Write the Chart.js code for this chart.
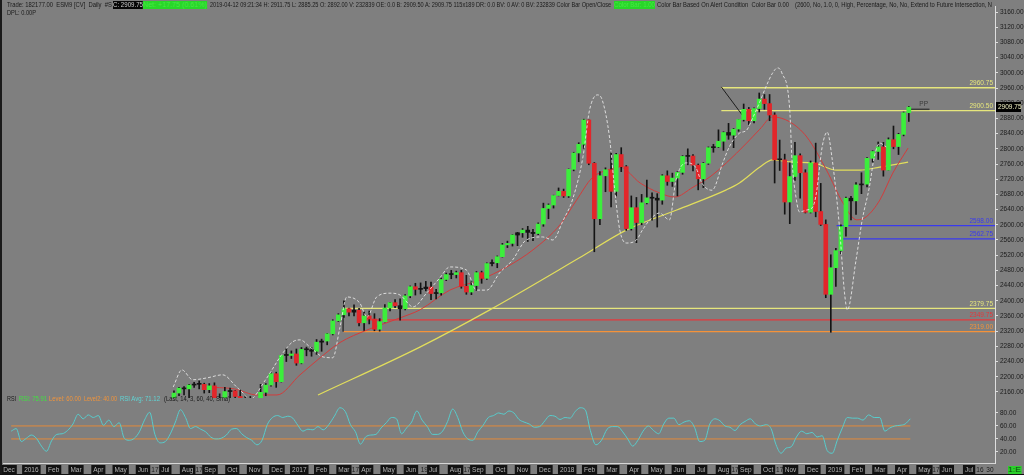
<!DOCTYPE html>
<html>
<head>
<meta charset="utf-8">
<title>ESM9 Daily</title>
<script src="https://cdn.jsdelivr.net/npm/chart.js@4.4.1/dist/chart.umd.min.js"></script>
<style>
  html, body { margin: 0; padding: 0; background: #7f7f7f; }
  #wrap { position: relative; width: 1024px; height: 475px; overflow: hidden; background: #7f7f7f;
          font-family: "Liberation Sans", Arial, sans-serif; }
  canvas { position: absolute; left: 0; }
  #priceChart { top: 0; }
  #rsiChart { top: 398px; }
  .txt { position: absolute; white-space: nowrap; font-size: 7px; line-height: 8px; color: #1b1b1b; transform-origin: 0 50%; }
  #edgeL { position: absolute; left: 0; top: 0; width: 2px; height: 475px; background: #1a1a1a; }
  #edgeB { position: absolute; left: 0; top: 474px; width: 1024px; height: 1px; background: #111; }
</style>
</head>
<body>
<div id="wrap">
  <canvas id="priceChart" width="1024" height="400"></canvas>
  <canvas id="rsiChart" width="1024" height="77"></canvas>

  <div class="txt fit" data-w="105" style="left:7px;top:1px">Trade: 182177.00 &nbsp;ESM9 [CV] &nbsp;Daily &nbsp;#S</div>
  <div class="txt fit" data-w="30" style="left:113px;top:1px;background:#060606;color:#cfcfcf">C: 2909.75</div>
  <div class="txt fit" data-w="64" style="left:143px;top:1px;background:#29d629;color:#45e845">Net: +17.75 (0.61%)</div>
  <div class="txt fit" data-w="401" style="left:210px;top:1px">2019-04-12 09:21:34 H: 2911.75 L: 2885.25 O: 2892.00 V: 232839 OE: 0.0 B: 2909.50 A: 2909.75 115x189 DR: 0.0 BV: 0 AV: 0 BV: 232839 Color Bar Open/Close</div>
  <div class="txt fit" data-w="41" style="left:614px;top:1px;background:#29d629;color:#45e845">Color Bar: 1.00</div>
  <div class="txt fit" data-w="132" style="left:657px;top:1px">Color Bar Based On Alert Condition &nbsp;Color Bar 0.00</div>
  <div class="txt fit" data-w="197" style="left:795px;top:1px">(2600, No, 1.0, 0, High, Percentage, No, No, Extend to Future Intersection, N</div>
  <div class="txt fit" data-w="29" style="left:7px;top:9px">DPL: 0.00P</div>

  <div class="txt fit" data-w="9" style="left:7px;top:395px">RSI</div>
  <div class="txt fit" data-w="28" style="left:19px;top:395px;color:#41e041">RSI: 75.91</div>
  <div class="txt fit" data-w="32" style="left:49px;top:395px;color:#f0943c">Level: 60.00</div>
  <div class="txt fit" data-w="33" style="left:84px;top:395px;color:#f0943c">Level2: 40.00</div>
  <div class="txt fit" data-w="40" style="left:120px;top:395px;color:#5fd6d6">RSI Avg: 71.12</div>
  <div class="txt fit" data-w="66" style="left:164px;top:395px">(Last, 14, 3, 60, 40, Sma)</div>

  <div class="txt fit" data-w="13" style="left:1008px;top:466px;background:#2bd02b;color:#0d4d0d">1:E</div>
  <div id="edgeL"></div>
  <div id="edgeB"></div>
</div>

<script>
// ---- weekly ES candles, one per week (Friday), starting here
const candleStart = '2016-07-08';
const opens = [
  2090,2125,2157,2170,2168,2178,2180,2180,2166,2176,2124,2133,2161,2163,2148,2128,2135,2121,2080,2159,2178,2208,2187,2256,2256,2260,
  2236,2272,2271,2267,2291,2294,2313,2347,2363,2379,2370,2375,2342,2360,2352,2325,2345,2381,2395,2387,2379,2413,2437,2430,2432,2436,
  2419,2421,2456,2469,2469,2474,2438,2423,2440,2474,2459,2498,2500,2516,2547,2551,2573,2579,2586,2580,2577,2602,2643,2652,2677,2688,
  2676,2746,2789,2812,2876,2762,2616,2729,2745,2688,2785,2753,2590,2645,2606,2658,2671,2670,2665,2729,2714,2723,2738,2780,2781,2757,
  2721,2762,2803,2805,2820,2843,2836,2852,2877,2904,2874,2906,2931,2919,2889,2771,2771,2660,2727,2782,2737,2633,2763,2635,2601,2417,
  2487,2532,2595,2670,2663,2705,2707,2775,2793,2805,2744,2824,2806,2838,2895
];
const highs = [
  2126,2163,2172,2174,2180,2185,2189,2183,2182,2184,2155,2172,2170,2164,2165,2150,2148,2124,2180,2182,2210,2212,2257,2275,2268,2273,
  2277,2278,2277,2298,2299,2314,2350,2366,2400,2381,2389,2380,2370,2373,2366,2353,2390,2396,2403,2405,2416,2439,2446,2447,2451,2449,
  2430,2460,2473,2480,2478,2480,2467,2450,2477,2478,2500,2508,2518,2551,2557,2574,2580,2590,2596,2588,2605,2657,2655,2678,2697,2694,
  2747,2791,2816,2878,2876,2764,2740,2750,2792,2788,2803,2756,2676,2672,2680,2718,2684,2682,2732,2742,2736,2740,2782,2800,2785,2760,
  2764,2805,2812,2850,2845,2867,2854,2877,2918,2909,2908,2947,2943,2943,2895,2823,2786,2763,2817,2787,2745,2768,2815,2709,2613,2521,
  2538,2600,2673,2675,2711,2737,2777,2795,2818,2817,2829,2860,2841,2897,2911.75
];
const lows = [
  2073,2122,2150,2152,2145,2172,2168,2157,2158,2120,2113,2128,2141,2140,2113,2118,2114,2075,2028,2150,2175,2172,2186,2240,2248,2230,
  2234,2255,2254,2259,2267,2284,2310,2345,2356,2360,2360,2334,2322,2339,2321,2320,2344,2373,2382,2349,2376,2408,2415,2418,2426,2403,
  2405,2415,2453,2458,2460,2433,2417,2416,2427,2446,2456,2492,2487,2515,2540,2544,2545,2567,2556,2558,2574,2596,2616,2644,2676,2672,
  2672,2742,2766,2801,2758,2529,2600,2687,2647,2676,2740,2585,2586,2553,2600,2655,2612,2594,2654,2704,2701,2676,2733,2758,2742,2692,
  2698,2759,2791,2803,2796,2825,2803,2846,2873,2864,2868,2897,2904,2874,2710,2743,2628,2603,2717,2670,2631,2631,2621,2598,2408,2317,
  2438,2524,2570,2613,2627,2682,2700,2765,2772,2728,2744,2800,2785,2834,2872
];
const closes = [
  2125,2157,2170,2168,2178,2180,2180,2166,2176,2124,2133,2161,2163,2148,2128,2135,2121,2080,2159,2178,2208,2187,2256,2256,2260,2236,
  2272,2271,2267,2291,2294,2313,2347,2363,2379,2370,2375,2342,2360,2352,2325,2345,2381,2395,2387,2379,2413,2437,2430,2432,2436,2419,
  2421,2456,2469,2469,2474,2438,2423,2440,2474,2459,2498,2500,2516,2547,2551,2573,2579,2586,2580,2577,2602,2643,2652,2677,2688,2676,
  2746,2789,2812,2876,2762,2616,2729,2745,2688,2785,2753,2590,2645,2606,2658,2671,2670,2665,2729,2714,2723,2738,2780,2781,2757,2721,
  2762,2803,2805,2820,2843,2836,2852,2877,2904,2874,2906,2931,2919,2889,2771,2771,2660,2727,2782,2737,2633,2763,2635,2601,2417,2487,
  2532,2595,2670,2663,2705,2707,2775,2793,2805,2744,2824,2806,2838,2895,2909.75
];

// ---- red average
const redDates = ['2016-09-07','2016-10-04','2016-11-04','2016-12-01','2017-01-02','2017-01-30','2017-02-24','2017-04-02',
  '2017-05-17','2017-06-13','2017-07-24','2017-09-04','2017-10-10','2017-11-15','2017-12-22','2018-01-14','2018-02-04',
  '2018-02-23','2018-03-12','2018-04-09','2018-05-05','2018-05-26','2018-06-20','2018-07-13','2018-08-05','2018-09-02',
  '2018-09-20','2018-10-07','2018-10-31','2018-11-23','2018-12-20','2019-01-12','2019-01-31','2019-02-12','2019-03-01',
  '2019-03-19','2019-04-09'];
const redValues = [2172,2168,2152,2152,2205,2250,2290,2323,2355,2376,2428,2455,2489,2534,2600,2665,2723,2744,2752,2710,2684,
  2673,2699,2726,2763,2815,2852,2884,2871,2831,2744,2657,2613,2621,2665,2736,2802];

// ---- yellow average
const yellowDates = ['2017-01-27','2017-06-13','2017-09-17','2018-01-18','2018-03-21','2018-05-29','2018-08-05','2018-08-23',
  '2018-09-20','2018-10-07','2018-11-04','2018-12-01','2019-01-03','2019-02-04','2019-03-01','2019-04-09'];
const yellowValues = [2152,2278,2376,2513,2586,2639,2692,2710,2752,2771,2765,2763,2744,2744,2752,2765];

// ---- white dashed line
const whiteDates = ['2016-07-12','2016-07-24','2016-08-08','2016-08-28','2016-09-18','2016-10-07','2016-10-16','2016-10-25',
  '2016-11-15','2016-12-09','2016-12-23','2017-01-02','2017-01-16','2017-02-03','2017-02-15','2017-02-24','2017-03-05',
  '2017-03-23','2017-04-02','2017-04-15','2017-05-03','2017-05-17','2017-06-04','2017-06-22','2017-07-10','2017-07-24',
  '2017-08-16','2017-08-30','2017-09-13','2017-09-30','2017-10-18','2017-11-06','2017-11-28','2017-12-12','2017-12-26',
  '2018-01-09','2018-01-23','2018-02-01','2018-02-11','2018-02-17','2018-02-26','2018-03-05','2018-03-12','2018-03-21',
  '2018-04-04','2018-04-12','2018-04-22','2018-05-05','2018-05-19','2018-05-28','2018-06-11','2018-06-24','2018-07-02',
  '2018-07-16','2018-07-31','2018-08-09','2018-08-23','2018-09-02','2018-09-09','2018-09-19','2018-09-28','2018-10-07',
  '2018-10-14','2018-10-20','2018-10-31','2018-11-03','2018-11-09','2018-11-13','2018-11-23','2018-12-01','2018-12-06',
  '2018-12-14','2018-12-21','2018-12-28','2019-01-07','2019-01-14','2019-01-18','2019-01-30','2019-02-07','2019-02-16',
  '2019-02-22','2019-03-01','2019-03-10'];
const whiteValues = [2173,2218,2192,2197,2205,2173,2157,2140,2190,2262,2292,2297,2278,2252,2250,2330,2410,2394,2357,2410,
  2420,2415,2384,2420,2460,2489,2481,2428,2428,2473,2507,2560,2568,2560,2610,2670,2780,2902,2942,2928,2831,2691,2586,2552,
  2560,2586,2613,2631,2613,2718,2763,2750,2710,2691,2763,2805,2841,2849,2876,2920,2963,2999,3013,3000,2902,2771,2665,2634,
  2639,2647,2684,2805,2844,2771,2594,2421,2376,2507,2613,2700,2778,2815,2805];

// ---- horizontal levels
const levelValues = [2960.75, 2900.50, 2598.00, 2562.75, 2379.75, 2349.75, 2319.00];
const levelStarts = ['2018-07-29','2018-07-29','2019-01-03','2019-01-07','2017-02-28','2017-03-20','2017-02-28'];
const trendFrom = ['2018-07-29', 2963], trendTo = ['2018-08-27', 2889];
const ppValue = 2904, ppFrom = '2019-04-11', ppTo = '2019-05-08';
const lastPrice = 2909.75;

// ---- RSI, one value per week from here
const rsiStart = '2015-12-04';
const rsiValues = [
  52,56,36,41,46,41,29,21,37,47, 48,53,63,78,71,77,73,76,61,69, 59,65,41,38,41,51,69,81,47,34,
  36,48,66,85,73,56,59,55,51,43, 40,41,46,55,56,48,42,38,31,38, 62,73,76,73,75,72,61,52,55,54,
  59,54,62,75,88,82,62,51,32,43, 46,47,57,65,73,71,48,57,66,83, 69,59,47,47,52,67,86,73,51,40,
  38,51,61,73,76,80,78,83,
  80,70,66,63,58,59,68,76,75,70, 73,72,82,88,85,53,31,38,55,59, 59,51,40,29,38,52,60,53,48,63,
  72,72,62,66,68,58,36,38,63,71, 68,60,58,53,62,67,71,63,60,62, 56,31,18,26,28,43,52,48,50,43,
  45,22,18,38,57,73,72,72,69,77, 73,73,52,57,60,61,63,71
];
const rsiLevels = [60, 40];

// ---- axis ticks
const priceTicks = [2160,2200,2240,2280,2320,2360,2400,2440,2480,2520,2560,2600,2640,2680,2720,2760,2800,2840,
  2880,2920,2960,3000,3040,3080,3120,3160];
const rsiTicks = [20, 40, 60, 80];
const monthLabels = ['Dec','2016','Feb','Mar','Apr','May','Jun','Jul','Aug','Sep','Oct','Nov',
  'Dec','2017','Feb','Mar','Apr','May','Jun','Jul','Aug','Sep','Oct','Nov',
  'Dec','2018','Feb','Mar','Apr','May','Jun','Jul','Aug','Sep','Oct','Nov',
  'Dec','2019','Feb','Mar','Apr','May','Jun','Jul'];
const dayLabelDates = ['2016-06-17','2016-08-17','2017-03-17','2017-06-19','2017-08-17','2018-08-17','2018-10-17',
  '2019-05-17','2019-07-16','2019-07-30'];
const dayLabels = ['17','17','17','19','17','17','17','17','16','30'];

// ---- styles
const FONT = '"Liberation Sans", Arial, sans-serif';
const GREEN = '#3cee3c', RED = '#e2262a', BLACK = '#141414';
const LEVEL_COLORS = ['#e6e67c','#e6e67c','#3a3aee','#3a3aee','#e6e67c','#e4383c','#f4923a'];
const X_MIN = -0.27, X_MAX = 44.16;

Chart.defaults.font.family = FONT;

// x position = months since 1 Dec 2015
function monthPos(d) {
  const y = d.getUTCFullYear(), m = d.getUTCMonth() + 1, day = d.getUTCDate();
  const len = new Date(Date.UTC(y, m, 0)).getUTCDate();
  return (y - 2015) * 12 + (m - 12) + (day - 1) / len;
}
const posOf = s => monthPos(new Date(s + 'T00:00:00Z'));
function weekly(start, n) {
  const t0 = Date.parse(start + 'T00:00:00Z');
  return Array.from({length: n}, (_, i) => new Date(t0 + i * 7 * 864e5));
}
const series = (dates, values) => dates.map((d, i) => ({x: posOf(d), y: values[i]}));

const candleX = weekly(candleStart, closes.length).map(d => monthPos(new Date(d.getTime() - 2 * 864e5)));
const bodyColors = closes.map((c, i) => {
  const o = opens[i];
  if (Math.abs(c - o) < (highs[i] - lows[i]) * 0.2) return BLACK;
  return c > o ? GREEN : RED;
});

const lineDs = (data, color, extra) => Object.assign({
  type: 'line', data, borderColor: color, borderWidth: 1, pointRadius: 0, fill: false,
  cubicInterpolationMode: 'monotone'
}, extra || {});
const straight = {cubicInterpolationMode: 'default', tension: 0};

const farRight = posOf('2019-09-30');
const levelSets = levelValues.map((v, i) => lineDs(
  [{x: posOf(levelStarts[i]), y: v}, {x: farRight, y: v}], LEVEL_COLORS[i],
  Object.assign({borderWidth: 1.3, order: 10}, straight)));

const levelLabels = {
  id: 'levelLabels',
  afterDatasetsDraw(chart) {
    const {ctx, chartArea, scales: {x, y}} = chart;
    ctx.save();
    ctx.font = '6.5px ' + FONT;
    ctx.textAlign = 'right';
    ctx.textBaseline = 'bottom';
    levelValues.forEach((v, i) => {
      ctx.fillStyle = LEVEL_COLORS[i];
      ctx.fillText(v.toFixed(2), chartArea.right - 2, y.getPixelForValue(v) - 1);
    });
    ctx.fillStyle = '#3a3a3a';
    ctx.textAlign = 'center';
    ctx.fillText('PP', x.getPixelForValue(posOf('2019-04-30')), y.getPixelForValue(ppValue) - 2);
    ctx.restore();
  },
  afterDraw(chart) {
    const {ctx, chartArea, scales: {y}} = chart;
    const py = Math.round(y.getPixelForValue(lastPrice));
    ctx.save();
    ctx.fillStyle = '#000';
    ctx.fillRect(chartArea.right + 1, py - 5, 25, 10);
    ctx.fillStyle = '#f3f3c4';
    ctx.font = '6.5px ' + FONT;
    ctx.textBaseline = 'middle';
    ctx.fillText(lastPrice.toFixed(2), chartArea.right + 3, py);
    ctx.restore();
  }
};

const yAxisCommon = {
  position: 'right',
  grid: {display: true, drawOnChartArea: false, drawTicks: true, tickLength: 3, color: '#dedede'},
  border: {display: true, color: '#dedede'},
  ticks: {callback: v => v.toFixed(2), color: '#1c1c1c', font: {size: 6.5}, padding: 2}
};
const fitY = s => { s.width = 29; s.paddingTop = 0; s.paddingBottom = 0; };

new Chart(document.getElementById('priceChart'), {
  type: 'bar',
  data: {
    datasets: [
      lineDs(series(whiteDates, whiteValues), 'rgba(236,236,236,0.85)', {borderDash: [3, 2], order: 1}),
      {type: 'bar', data: candleX.map((x, i) => ({x, y: [opens[i], closes[i]]})), backgroundColor: bodyColors,
       barThickness: 4, minBarLength: 1, grouped: false, borderWidth: 0, order: 2},
      {type: 'bar', data: candleX.map((x, i) => ({x, y: [lows[i], highs[i]]})), backgroundColor: BLACK,
       barThickness: 1, grouped: false, borderWidth: 0, order: 3},
      lineDs(series(redDates, redValues), '#d23c3c', {order: 5}),
      lineDs(series(yellowDates, yellowValues), '#e2de5c', {borderWidth: 1.2, order: 5}),
      lineDs([{x: posOf(trendFrom[0]), y: trendFrom[1]}, {x: posOf(trendTo[0]), y: trendTo[1]}], '#1e1e1e',
        Object.assign({order: 4}, straight)),
      lineDs([{x: posOf(ppFrom), y: ppValue}, {x: posOf(ppTo), y: ppValue}], '#3a3a3a',
        Object.assign({borderWidth: 1.5, order: 4}, straight)),
      lineDs([{x: posOf('2017-02-28'), y: 2379.75}, {x: posOf('2017-02-28'), y: 2319.00}], '#3c3c3c',
        Object.assign({order: 10}, straight)),
      ...levelSets
    ]
  },
  options: {
    responsive: false, animation: false, events: [],
    layout: {padding: {left: 3, right: 0, top: 6, bottom: 2}},
    plugins: {legend: {display: false}, tooltip: {enabled: false}},
    scales: {
      x: {type: 'linear', display: false, min: X_MIN, max: X_MAX, offset: false, grid: {offset: false}},
      y: Object.assign({}, yAxisCommon, {
        min: 2144, max: 3176, beginAtZero: false,
        afterBuildTicks: s => { s.ticks = priceTicks.map(v => ({value: v})); },
        afterFit: fitY
      })
    }
  },
  plugins: [levelLabels]
});

const rsiX = weekly(rsiStart, rsiValues.length).map(monthPos);
const xTicks = monthLabels.map((t, i) => ({value: i, text: t, box: true}))
  .concat(dayLabels.map((t, i) => ({value: posOf(dayLabelDates[i]), text: t, box: false})));

new Chart(document.getElementById('rsiChart'), {
  type: 'line',
  data: {
    datasets: rsiLevels.map(v => lineDs([{x: rsiX[0], y: v}, {x: rsiX[rsiX.length - 1], y: v}], '#e38a3a',
        Object.assign({order: 3}, straight)))
      .concat([lineDs(rsiX.map((x, i) => ({x, y: rsiValues[i]})), '#58cccc', {order: 1})])
  },
  options: {
    responsive: false, animation: false, events: [],
    layout: {padding: {left: 3, right: 0, top: 0, bottom: 0}},
    plugins: {legend: {display: false}, tooltip: {enabled: false}},
    scales: {
      x: {
        type: 'linear', min: X_MIN, max: X_MAX, offset: false,
        grid: {display: false, drawTicks: false},
        border: {display: true, color: '#d6d6d6'},
        afterBuildTicks: s => { s.ticks = xTicks.map(t => ({value: t.value, text: t.text, box: t.box})); },
        ticks: {
          autoSkip: false, maxRotation: 0, minRotation: 0, padding: 3, font: {size: 6.5},
          callback: (v, i, ticks) => ticks[i].text,
          color: c => (c.tick && c.tick.box) ? '#b4b4b4' : '#1c1c1c',
          showLabelBackdrop: c => !!(c.tick && c.tick.box),
          backdropColor: '#121212', backdropPadding: {x: 2, y: 1}
        },
        afterFit: s => { s.height = 12; s.paddingLeft = 0; s.paddingRight = 0; }
      },
      y: Object.assign({}, yAxisCommon, {
        min: 3, max: 103,
        afterBuildTicks: s => { s.ticks = rsiTicks.map(v => ({value: v})); },
        afterFit: fitY
      })
    }
  }
});

document.querySelectorAll('.fit').forEach(el => {
  const w = +el.dataset.w, actual = el.getBoundingClientRect().width;
  if (actual > 0) el.style.transform = 'scaleX(' + (w / actual).toFixed(3) + ')';
});
</script>
</body>
</html>
